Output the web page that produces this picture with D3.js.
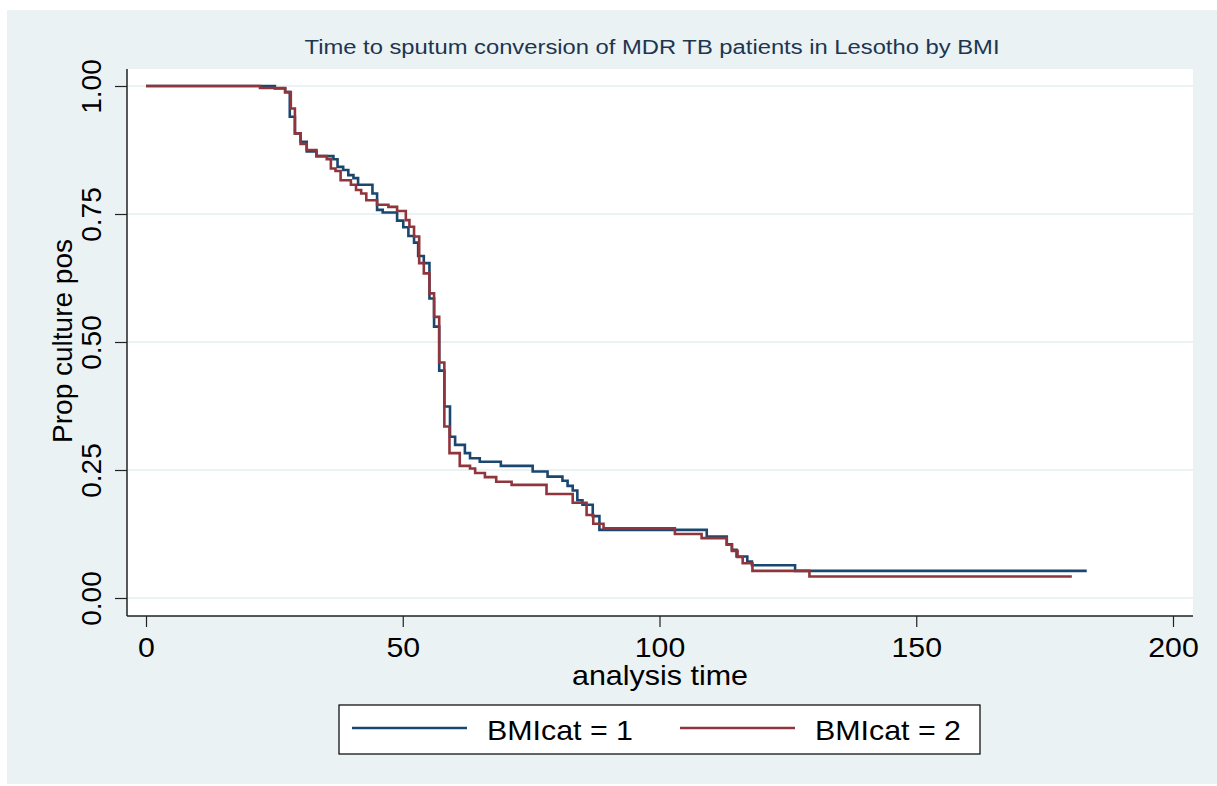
<!DOCTYPE html>
<html>
<head>
<meta charset="utf-8">
<script src="https://cdn.jsdelivr.net/npm/d3@7"></script>
<style>
  html, body { margin: 0; padding: 0; background: #ffffff; }
  svg { display: block; }
  text { font-family: "Liberation Sans", Arial, sans-serif; }
</style>
</head>
<body>
<svg id="chart" width="1217" height="786"></svg>
<script>
// ---------------- DATA ----------------
const chartTitle = "Time to sputum conversion of MDR TB patients in Lesotho by BMI";
const xTitle = "analysis time";
const yTitle = "Prop culture pos";
const seriesNames = ["BMIcat = 1", "BMIcat = 2"];
const xTicks = [0, 50, 100, 150, 200];
const yTicks = [0, 0.25, 0.5, 0.75, 1];
const yTickLabels = ["0.00", "0.25", "0.50", "0.75", "1.00"];

// BMIcat = 1 : Kaplan-Meier steps (time of drop, survival after drop); last entry = end of follow-up
const bmi1Time = [0, 25.1, 27.1, 28.0, 29.0, 30.1, 31.3, 33.2, 36.5, 37.3, 38.4, 39.4, 40.4, 41.3, 44.1, 45.0, 46.1,
  48.9, 50.1, 51.1, 52.2, 53.0, 54.1, 55.2, 56.1, 57.1, 58.1, 59.2, 60.2, 62.1, 63.1, 65.0, 69.1, 75.3, 78.2,
  81.1, 82.1, 83.1, 84.0, 85.0, 87.0, 88.3, 109.2, 113.1, 114.1, 115.0, 117.1, 118.0, 126.4, 183.2];
const bmi1Surv = [1, 0.995, 0.988, 0.940, 0.9075, 0.891, 0.872, 0.863, 0.857, 0.842, 0.836, 0.826, 0.820, 0.807, 0.790, 0.758, 0.753,
  0.737, 0.724, 0.707, 0.694, 0.668, 0.654, 0.585, 0.530, 0.444, 0.374, 0.315, 0.299, 0.283, 0.273, 0.266, 0.258, 0.247, 0.237,
  0.229, 0.219, 0.210, 0.191, 0.182, 0.160, 0.133, 0.120, 0.105, 0.094, 0.081, 0.071, 0.064, 0.053, 0.053];

// BMIcat = 2
const bmi2Time = [0, 22.2, 27.1, 28.2, 29.0, 30.1, 31.3, 33.2, 35.2, 36.0, 36.9, 37.9, 39.9, 40.9, 41.9, 42.9, 45.0, 47.2,
  48.9, 50.6, 51.3, 52.2, 53.2, 54.1, 55.2, 56.1, 57.1, 58.1, 59.1, 61.1, 63.1, 64.1, 66.0, 68.2, 71.2, 78.0, 83.1,
  85.8, 87.1, 89.1, 103.0, 108.2, 113.1, 114.1, 115.2, 116.2, 118.1, 129.2, 180.3];
const bmi2Surv = [1, 0.996, 0.988, 0.956, 0.9075, 0.887, 0.875, 0.863, 0.857, 0.839, 0.834, 0.816, 0.807, 0.797, 0.790, 0.777, 0.768, 0.764,
  0.756, 0.738, 0.725, 0.706, 0.654, 0.634, 0.595, 0.549, 0.460, 0.335, 0.283, 0.258, 0.253, 0.244, 0.236, 0.227, 0.221, 0.203, 0.186,
  0.162, 0.145, 0.136, 0.125, 0.117, 0.104, 0.092, 0.080, 0.068, 0.053, 0.042, 0.042];

const seriesColors = ["#1a476f", "#90353b"];

// ---------------- DRAW ----------------
const svg = d3.select("#chart");
const W = 1217, H = 786;
const plot = { left: 127, right: 1193, top: 69, bottom: 616 };

// outer background
svg.append("rect").attr("x", 7).attr("y", 10).attr("width", W - 7).attr("height", H - 12)
  .attr("fill", "#eaf2f3");
// plot region
svg.append("rect").attr("x", plot.left).attr("y", plot.top)
  .attr("width", plot.right - plot.left).attr("height", plot.bottom - plot.top)
  .attr("fill", "#ffffff");

const x = d3.scaleLinear().domain([0, 200]).range([146, 1173]);
const y = d3.scaleLinear().domain([0, 1]).range([598, 86]);

// gridlines
svg.append("g").selectAll("line").data(yTicks).join("line")
  .attr("x1", plot.left + 1).attr("x2", plot.right)
  .attr("y1", d => y(d)).attr("y2", d => y(d))
  .attr("stroke", "#eaf2f3").attr("stroke-width", 2);

// y axis
const yAxis = d3.axisLeft(y).tickValues(yTicks).tickSize(12).tickPadding(0)
  .tickFormat((d, i) => yTickLabels[i]);
const gy = svg.append("g").attr("transform", `translate(${plot.left},0)`).call(yAxis);
gy.select(".domain").remove();
gy.selectAll(".tick line").attr("stroke", "#222").attr("stroke-width", 1.2);
gy.selectAll(".tick text")
  .attr("transform", "translate(-26,0) rotate(-90)")
  .attr("x", 0).attr("y", 0).attr("dy", 0)
  .attr("text-anchor", "middle")
  .attr("font-size", 28).attr("fill", "#000")
  .attr("font-family", "Liberation Sans, Arial, sans-serif");

// x axis
const xAxis = d3.axisBottom(x).tickValues(xTicks).tickSize(11).tickPadding(10)
  .tickFormat(d3.format("d"));
const gx = svg.append("g").attr("transform", `translate(0,${plot.bottom})`).call(xAxis);
gx.select(".domain").remove();
gx.selectAll(".tick line").attr("stroke", "#222").attr("stroke-width", 1.2);
gx.selectAll(".tick text").attr("font-size", 28).attr("fill", "#000")
  .attr("font-family", "Liberation Sans, Arial, sans-serif").attr("dy", "0.71em")
  .attr("transform", "scale(1.08,1)");

// axis lines
svg.append("line").attr("x1", plot.left).attr("x2", plot.left).attr("y1", plot.top).attr("y2", plot.bottom)
  .attr("stroke", "#222").attr("stroke-width", 1.5);
svg.append("line").attr("x1", plot.left).attr("x2", plot.right).attr("y1", plot.bottom).attr("y2", plot.bottom)
  .attr("stroke", "#222").attr("stroke-width", 1.5);

// curves
const line = d3.line().x(d => x(d[0])).y(d => y(d[1])).curve(d3.curveStepAfter);
const series = [
  d3.zip(bmi1Time, bmi1Surv),
  d3.zip(bmi2Time, bmi2Surv)
];
svg.append("g").selectAll("path").data(series).join("path")
  .attr("d", line)
  .attr("fill", "none")
  .attr("stroke", (d, i) => seriesColors[i])
  .attr("stroke-width", 2.6)
  .attr("stroke-linejoin", "miter");

// titles
svg.append("text").attr("x", 652).attr("y", 54).attr("text-anchor", "middle")
  .attr("font-size", 20).attr("fill", "#1e3550")
  .attr("textLength", 695).attr("lengthAdjust", "spacingAndGlyphs")
  .text(chartTitle);
svg.append("text").attr("x", 660).attr("y", 685).attr("text-anchor", "middle")
  .attr("font-size", 28).attr("fill", "#000")
  .attr("textLength", 176).attr("lengthAdjust", "spacingAndGlyphs")
  .text(xTitle);
svg.append("text").attr("transform", "translate(72,341) rotate(-90)").attr("text-anchor", "middle")
  .attr("font-size", 28).attr("fill", "#000").text(yTitle);

// legend
const lg = svg.append("g");
lg.append("rect").attr("x", 339).attr("y", 705).attr("width", 641).attr("height", 49)
  .attr("fill", "#fff").attr("stroke", "#000").attr("stroke-width", 1.2);
const legendX = [352, 680];
seriesNames.forEach((name, i) => {
  lg.append("line").attr("x1", legendX[i]).attr("x2", legendX[i] + 115)
    .attr("y1", 728).attr("y2", 728)
    .attr("stroke", seriesColors[i]).attr("stroke-width", 2.6);
  lg.append("text").attr("x", legendX[i] + 135).attr("y", 740)
    .attr("font-size", 28).attr("fill", "#000")
    .attr("textLength", 146).attr("lengthAdjust", "spacingAndGlyphs")
    .text(name);
});
</script>
</body>
</html>
